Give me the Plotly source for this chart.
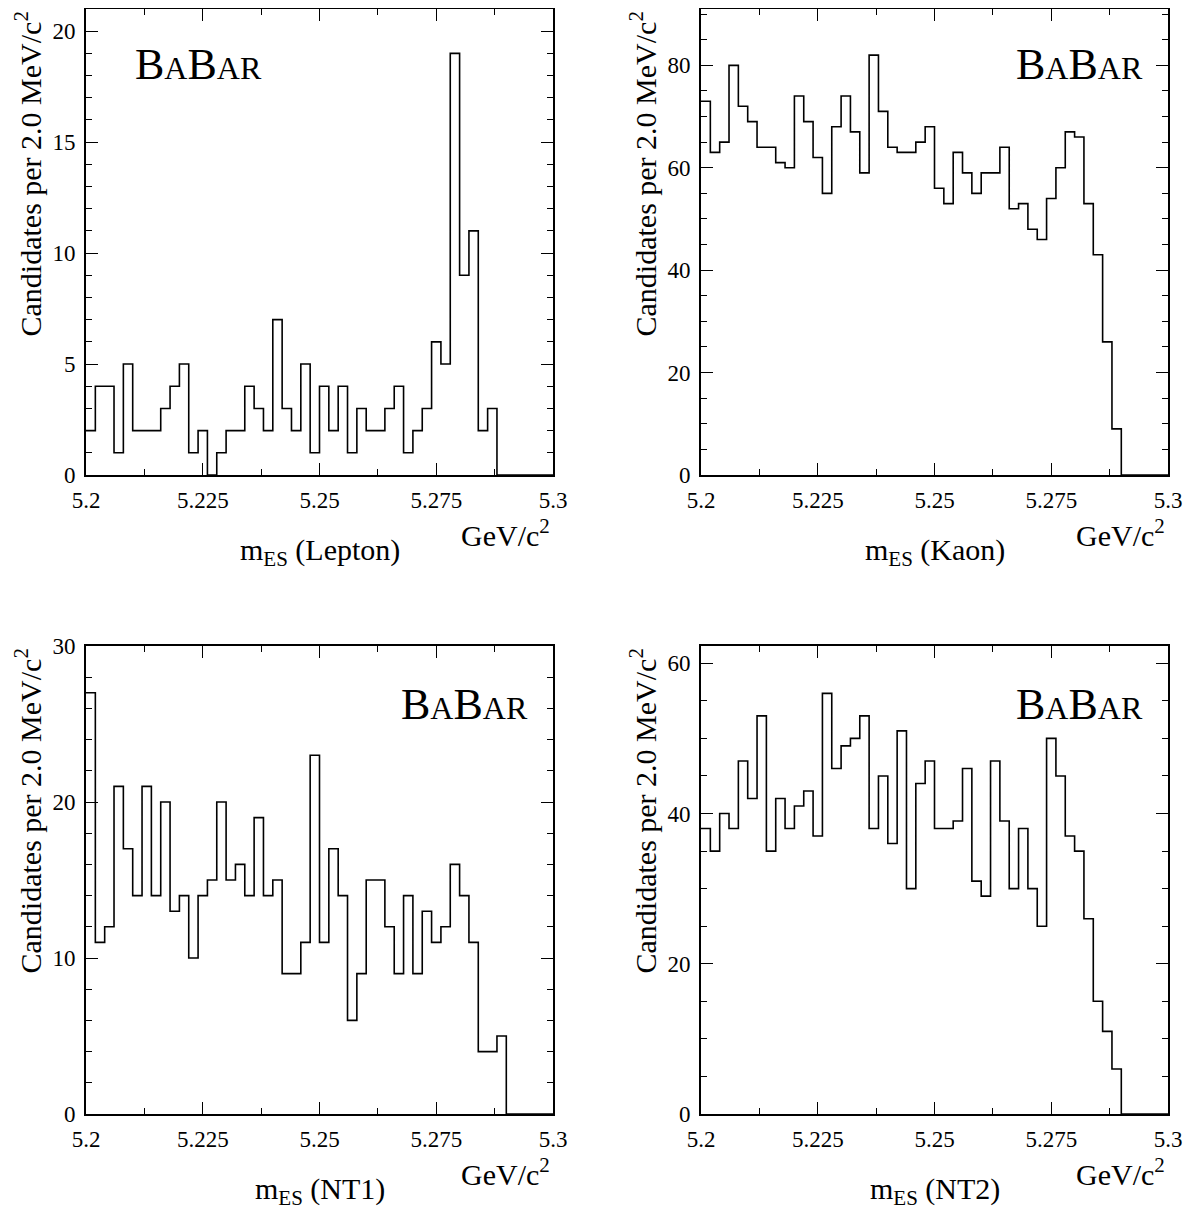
import numpy as np
import plotly.graph_objects as go

# ---------------- data ----------------
bin_low = 5.2
bin_high = 5.3
n_bins = 50

lepton = [2, 4, 4, 1, 5, 2, 2, 2, 3, 4, 5, 1, 2, 0, 1, 2, 2, 4, 3, 2,
          7, 3, 2, 5, 1, 4, 2, 4, 1, 3, 2, 2, 3, 4, 1, 2, 3, 6, 5, 19,
          9, 11, 2, 3, 0, 0, 0, 0, 0, 0]
kaon = [73, 63, 65, 80, 72, 69, 64, 64, 61, 60, 74, 69, 62, 55, 68, 74, 67, 59, 82, 71,
        64, 63, 63, 65, 68, 56, 53, 63, 59, 55, 59, 59, 64, 52, 53, 48, 46, 54, 60, 67,
        66, 53, 43, 26, 9, 0, 0, 0, 0, 0]
nt1 = [27, 11, 12, 21, 17, 14, 21, 14, 20, 13, 14, 10, 14, 15, 20, 15, 16, 14, 19, 14,
       15, 9, 9, 11, 23, 11, 17, 14, 6, 9, 15, 15, 12, 9, 14, 9, 13, 11, 12, 16,
       14, 11, 4, 4, 5, 0, 0, 0, 0, 0]
nt2 = [38, 35, 40, 38, 47, 42, 53, 35, 42, 38, 41, 43, 37, 56, 46, 49, 50, 53, 38, 45,
       36, 51, 30, 44, 47, 38, 38, 39, 46, 31, 29, 47, 39, 30, 38, 30, 25, 50, 45, 37,
       35, 26, 15, 11, 6, 0, 0, 0, 0, 0]

panel_labels = ["Lepton", "Kaon", "NT1", "NT2"]
panel_values = [lepton, kaon, nt1, nt2]
y_max = [21.0, 91.0, 30.0, 62.3]
y_major = [5, 20, 10, 20]
y_minor = [1, 5, 2, 5]
x_tickvals = [5.2, 5.225, 5.25, 5.275, 5.3]
x_ticktext = ["5.2", "5.225", "5.25", "5.275", "5.3"]

# ---------------- layout geometry ----------------
# the page body has an 8px margin, so the figure is drawn 8px in from the window corner
O = 8
W, H = 1196 - O, 1214 - O
FONT = "Liberation Serif"

def fx(px):
    return (px - O) / W

def fy(py):
    return 1 - (py - O) / H

# pixel boxes in window coordinates (left, right, top, bottom)
boxes = [(86, 553, 9, 475), (701, 1168, 9, 475),
         (86, 553, 646, 1114), (701, 1168, 646, 1114)]
logo_pos = [("left", 133, 64), ("right", 1145, 64),
            ("right", 530, 704), ("right", 1145, 704)]

edges = bin_low + np.arange(n_bins + 1) * (bin_high - bin_low) / n_bins

fig = go.Figure()
annotations = []
layout_axes = {}

for i, (vals, lab) in enumerate(zip(panel_values, panel_labels)):
    k = "" if i == 0 else str(i + 1)
    xs = list(edges[:-1]) + [edges[-1]]
    ys = list(vals) + [vals[-1]]
    fig.add_trace(go.Scatter(
        x=xs, y=ys, mode="lines", line=dict(shape="hv", color="black", width=1.6),
        xaxis="x" + k, yaxis="y" + k, showlegend=False, hoverinfo="skip"))

    l, r, t, b = boxes[i]
    common = dict(showline=True, linecolor="black", linewidth=1.6, mirror="allticks",
                  ticks="inside", ticklen=12, tickwidth=1.2, tickcolor="black",
                  showgrid=False, zeroline=False, automargin=False,
                  tickfont=dict(family=FONT, size=23, color="black"))
    layout_axes["xaxis" + k] = dict(
        domain=[fx(l), fx(r)], range=[bin_low, bin_high], anchor="y" + k,
        tickmode="array", tickvals=x_tickvals, ticktext=x_ticktext,
        minor=dict(ticks="inside", ticklen=6, tickwidth=1.2, tickcolor="black",
                   dtick=0.0125, tick0=bin_low, showgrid=False),
        ticklabelstandoff=4, **common)
    layout_axes["yaxis" + k] = dict(
        domain=[fy(b), fy(t)], range=[0, y_max[i]], anchor="x" + k,
        tickmode="linear", tick0=0, dtick=y_major[i],
        minor=dict(ticks="inside", ticklen=6, tickwidth=1.2, tickcolor="black",
                   dtick=y_minor[i], tick0=0, showgrid=False),
        ticklabelstandoff=4, **common)

    # y title
    annotations.append(dict(
        text="Candidates per 2.0 MeV/c<sup>2</sup>", textangle=-90,
        xref="paper", yref="paper", x=fx(l - 58), y=fy(t + 1),
        xanchor="center", yanchor="top", showarrow=False,
        font=dict(family=FONT, size=30, color="black")))
    # x title
    annotations.append(dict(
        text="m<sub>ES</sub> (%s)" % lab,
        xref="paper", yref="paper", x=fx((l + r) / 2), y=fy(b + 77),
        xanchor="center", yanchor="middle", showarrow=False,
        font=dict(family=FONT, size=30, color="black")))
    # units
    annotations.append(dict(
        text="GeV/c<sup>2</sup>",
        xref="paper", yref="paper", x=fx(r - 1), y=fy(b + 58),
        xanchor="right", yanchor="middle", showarrow=False,
        font=dict(family=FONT, size=30, color="black")))
    # logo
    side, lx, ly = logo_pos[i]
    annotations.append(dict(
        text="<span style='font-size:44px'>B</span><span style='font-size:32px'>A</span>"
             "<span style='font-size:44px'>B</span><span style='font-size:32px'>AR</span>",
        xref="paper", yref="paper", x=fx(lx), y=fy(ly),
        xanchor=side, yanchor="middle", showarrow=False,
        font=dict(family=FONT, size=44, color="black")))

fig.update_layout(
    template="none",
    width=W, height=H, margin=dict(l=0, r=0, t=0, b=0),
    paper_bgcolor="white", plot_bgcolor="white",
    annotations=annotations, **layout_axes)

fig.write_html("out.html")
